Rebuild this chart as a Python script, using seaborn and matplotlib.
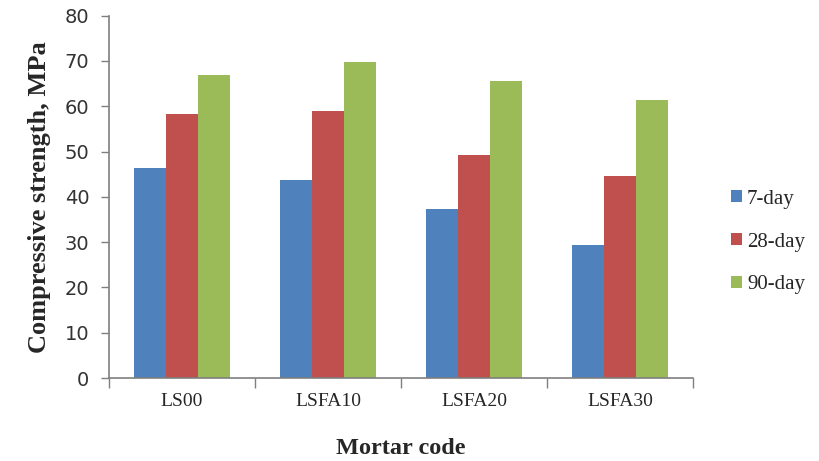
import matplotlib
matplotlib.use("Agg")
import matplotlib.pyplot as plt
import pandas as pd
import seaborn as sns

# Data
mortars = ["LS00", "LSFA10", "LSFA20", "LSFA30"]
ages = ["7-day", "28-day", "90-day"]
day7 = [46.4, 43.7, 37.3, 29.4]
day28 = [58.4, 59.0, 49.2, 44.7]
day90 = [66.9, 69.7, 65.6, 61.3]
colors = ["#4F81BD", "#C0504D", "#9BBB59"]

df = pd.DataFrame({
    "Mortar": mortars * 3,
    "Age": [a for a in ages for _ in mortars],
    "Strength": day7 + day28 + day90,
})

sns.set_style("white")
plt.rcParams["font.family"] = ["Liberation Serif", "DejaVu Serif"]

fig = plt.figure(figsize=(8.19, 4.61), dpi=100)
ax = fig.add_axes([0.133, 0.180, 0.713, 0.786])

sns.barplot(data=df, x="Mortar", y="Strength", hue="Age", order=mortars,
            hue_order=ages, palette=colors, width=0.66, saturation=1,
            linewidth=0, ax=ax, legend=True)

ax.set_xlim(-0.5, 3.5)
ax.set_ylim(0, 80)
ax.set_yticks(range(0, 81, 10))
ax.set_yticklabels([str(v) for v in range(0, 81, 10)],
                   family="DejaVu Sans", fontsize=14, color="#333333")
ax.set_xticks(range(len(mortars)))
ax.set_xticklabels(mortars, fontsize=14)
ax.set_xticks([i - 0.5 for i in range(len(mortars) + 1)], minor=True)
ax.tick_params(axis="x", which="major", length=0, pad=11)
ax.tick_params(axis="x", which="minor", length=7, color="#7f7f7f", width=1, direction="out", bottom=True)
ax.tick_params(axis="y", length=6, color="#7f7f7f", width=1, direction="out", left=True, pad=8)

for s in ["top", "right"]:
    ax.spines[s].set_visible(False)
for s in ["left", "bottom"]:
    ax.spines[s].set_color("#7f7f7f")
    ax.spines[s].set_linewidth(1.2)

ax.set_xlabel("Mortar code", fontsize=17.5, fontweight="bold", labelpad=20)
ax.set_ylabel("Compressive strength, MPa", fontsize=19, fontweight="bold", labelpad=10)

handles, labels = ax.get_legend_handles_labels()
ax.legend(handles, labels, loc="center left", bbox_to_anchor=(0.87, 0.475),
          bbox_transform=fig.transFigure, frameon=False, fontsize=15,
          handlelength=0.5, handleheight=0.5, handletextpad=0.25,
          labelspacing=1.15, borderpad=0.4)

fig.savefig("out.png", dpi=100)
